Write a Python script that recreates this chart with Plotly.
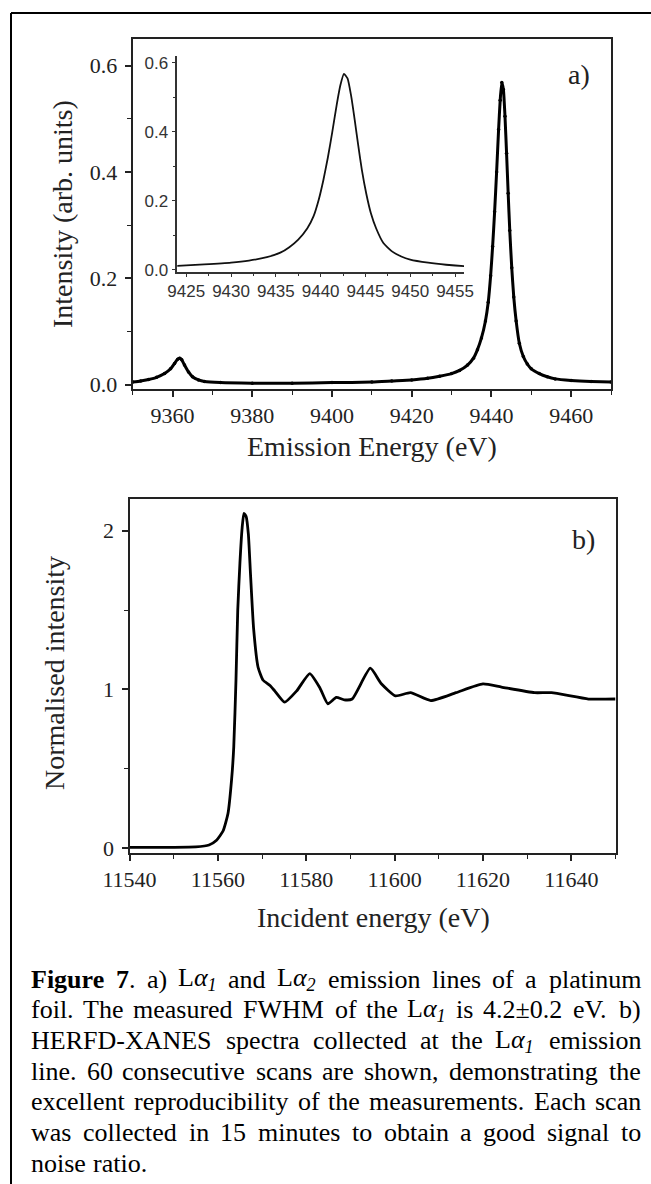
import re
import plotly.graph_objects as go

# ---------------- data ----------------
emission_energy = [9350, 9352, 9354, 9356, 9358, 9359.5, 9360.5, 9361.3, 9361.8, 9362.3,
                   9363, 9364, 9365, 9366.5, 9368, 9372, 9380, 9390, 9400, 9410,
                   9415, 9420, 9424, 9427, 9430, 9432, 9434, 9435.5, 9436.5, 9437.5,
                   9438.5, 9439.2, 9439.8, 9440.3, 9440.8, 9441.3, 9441.8, 9442.2, 9442.6, 9443.0,
                   9443.4, 9443.8, 9444.2, 9444.6, 9445.1, 9445.6, 9446.2, 9447, 9448, 9449,
                   9450, 9452, 9454, 9456, 9460, 9465, 9470]
emission_intensity = [0.005, 0.007, 0.010, 0.014, 0.021, 0.030, 0.040, 0.048, 0.050, 0.047,
                      0.037, 0.024, 0.015, 0.009, 0.006, 0.004, 0.003, 0.003, 0.004, 0.005,
                      0.007, 0.009, 0.012, 0.016, 0.021, 0.027, 0.037, 0.050, 0.066, 0.088,
                      0.120, 0.155, 0.205, 0.260, 0.325, 0.400, 0.480, 0.535, 0.568, 0.555,
                      0.505, 0.435, 0.360, 0.290, 0.220, 0.165, 0.120, 0.078, 0.053, 0.039,
                      0.030, 0.021, 0.015, 0.011, 0.008, 0.006, 0.005]

incident_energy = [11540, 11550, 11555, 11558, 11559.7, 11561.2, 11562.3, 11563.1, 11563.6, 11564.1,
                   11564.5, 11565.0, 11565.5, 11565.9, 11566.4, 11566.9, 11567.4, 11568.1, 11569.1, 11570.2,
                   11571.8, 11572.9, 11575.1, 11577.8, 11580.8, 11583.1, 11584.9, 11586.8, 11588.6, 11590.4,
                   11594.5, 11597.0, 11600.2, 11603.6, 11608.2, 11613.9, 11620.0, 11624.2, 11631.7, 11635.5,
                   11643.9, 11650]
normalised_intensity = [0.005, 0.005, 0.008, 0.020, 0.05, 0.11, 0.22, 0.43, 0.64, 1.06,
                        1.50, 1.80, 2.02, 2.11, 2.09, 1.98, 1.72, 1.38, 1.14, 1.06,
                        1.025, 0.99, 0.92, 0.99, 1.10, 1.01, 0.91, 0.95, 0.935, 0.94,
                        1.134, 1.036, 0.96, 0.98, 0.93, 0.98, 1.035, 1.015, 0.98, 0.98,
                        0.94, 0.94]

ticks_a = [0.0, 0.2, 0.4, 0.6]
ticks_b = [0, 1, 2]

LA1 = "L<i>α</i><sub><i>1</i></sub>"
LA2 = "L<i>α</i><sub><i>2</i></sub>"
caption_lines = [
    ["<b>Figure</b>", "<b>7</b>.", "a)", LA1, "and", LA2, "emission", "lines", "of", "a", "platinum"],
    ["foil.", "The", "measured", "FWHM", "of", "the", LA1, "is", "4.2±0.2", "eV.", "b)"],
    ["HERFD-XANES", "spectra", "collected", "at", "the", LA1, "emission"],
    ["line.", "60", "consecutive", "scans", "are", "shown,", "demonstrating", "the"],
    ["excellent", "reproducibility", "of", "the", "measurements.", "Each", "scan"],
    ["was", "collected", "in", "15", "minutes", "to", "obtain", "a", "good", "signal", "to"],
    ["noise", "ratio."],
]

# ---------------- geometry helpers ----------------
W, H = 651, 1184


def px(x):
    return x / W


def py(y):
    return 1 - y / H


SERIF = "Liberation Serif"
SANS = "Liberation Sans"

fig = go.Figure()

# panel a main curve
fig.add_trace(go.Scatter(x=emission_energy, y=emission_intensity, mode="lines+markers",
                         line=dict(color="black", width=3, shape="spline", smoothing=0.5),
                         marker=dict(size=3.5, color="black"),
                         xaxis="x", yaxis="y", showlegend=False, hoverinfo="skip"))
# inset (same spectrum, zoomed)
fig.add_trace(go.Scatter(x=emission_energy, y=emission_intensity, mode="lines",
                         line=dict(color="#111", width=1.8, shape="spline", smoothing=0.5),
                         xaxis="x2", yaxis="y2", showlegend=False, hoverinfo="skip"))
# panel b
fig.add_trace(go.Scatter(x=incident_energy, y=normalised_intensity, mode="lines",
                         line=dict(color="black", width=2.8, shape="spline", smoothing=0.5),
                         xaxis="x3", yaxis="y3", showlegend=False, hoverinfo="skip"))

axcol = "#222"
tickfont = dict(family=SERIF, size=22, color=axcol)
insetfont = dict(family=SANS, size=17, color="#333")


def main_axis(**kw):
    d = dict(showline=True, linewidth=2, linecolor=axcol, mirror=True, ticks="outside",
             ticklen=6, tickwidth=1.5, tickcolor=axcol, showgrid=False, zeroline=False,
             tickfont=tickfont, automargin=False)
    d.update(kw)
    return d


minor_x = dict(dtick=10, ticks="outside", ticklen=4, tickwidth=1.3, tickcolor=axcol, showgrid=False)

fig.update_layout(
    template="none",
    width=W, height=H,
    margin=dict(l=0, r=0, t=0, b=0, autoexpand=False),
    paper_bgcolor="white", plot_bgcolor="rgba(0,0,0,0)",
    xaxis=main_axis(domain=[px(132.7), px(611)], range=[9350, 9470], tick0=9360, dtick=20,
                    tickformat="d", minor=dict(minor_x, tick0=9350), anchor="y"),
    yaxis=main_axis(domain=[py(389), py(39)], range=[-0.008, 0.65], tickvals=ticks_a,
                    tickformat=".1f", minor=dict(dtick=0.1, tick0=0, ticks="outside", ticklen=4,
                                                 tickwidth=1.3, tickcolor=axcol, showgrid=False),
                    anchor="x", ticklabelstandoff=3),
    xaxis2=dict(domain=[px(177.3), px(464)], range=[9424, 9456], tick0=9425, dtick=5, tickformat="d",
                showline=True, linewidth=1.5, linecolor="#333", mirror=False, ticks="outside",
                ticklen=3, tickwidth=1.2, tickcolor="#333", showgrid=False, zeroline=False,
                minor=dict(dtick=2.5, tick0=9425, ticks="outside", ticklen=2, tickwidth=1,
                           tickcolor="#333", showgrid=False),
                tickfont=insetfont, anchor="y2", automargin=False),
    yaxis2=dict(domain=[py(272), py(56)], range=[-0.006, 0.62], tickvals=ticks_a, tickformat=".1f",
                showline=True, linewidth=1.5, linecolor="#333", mirror=False, ticks="outside",
                ticklen=4, tickwidth=1.2, tickcolor="#333", showgrid=False, zeroline=False,
                minor=dict(dtick=0.1, tick0=0, ticks="outside", ticklen=2.5, tickwidth=1,
                           tickcolor="#333", showgrid=False),
                tickfont=insetfont, anchor="x2", automargin=False),
    xaxis3=main_axis(domain=[px(129.5), px(615.5)], range=[11540, 11650], tick0=11540, dtick=20,
                     tickformat="d", minor=dict(minor_x, tick0=11540), anchor="y3"),
    yaxis3=main_axis(domain=[py(853), py(499)], range=[-0.03, 2.2], tickvals=ticks_b,
                     minor=dict(dtick=0.5, tick0=0, ticks="outside", ticklen=4, tickwidth=1.3,
                                tickcolor=axcol, showgrid=False),
                     anchor="x3", ticklabelstandoff=3),
)

annotations = []


def text_at(x, y, text, size=28, angle=0, xanchor="center", font=SERIF, color="#222"):
    annotations.append(dict(x=px(x), y=py(y), xref="paper", yref="paper", text=text,
                            showarrow=False, textangle=angle, xanchor=xanchor, yanchor="middle",
                            borderpad=0, borderwidth=0,
                            font=dict(family=font, size=size, color=color)))


# axis titles and panel labels
text_at(372, 446, "Emission Energy (eV)")
text_at(63, 214, "Intensity (arb. units)", angle=-90)
text_at(373, 917, "Incident energy (eV)")
text_at(54, 673, "Normalised intensity", angle=-90)
text_at(579, 74.5, "a)")
text_at(583, 539.5, "b)")

# ---------------- justified caption ----------------
WID = {' ': .25, 'a': .444, 'b': .5, 'c': .444, 'd': .5, 'e': .444, 'f': .333, 'g': .5, 'h': .5,
       'i': .278, 'j': .278, 'k': .5, 'l': .278, 'm': .778, 'n': .5, 'o': .5, 'p': .5, 'q': .5,
       'r': .333, 's': .389, 't': .278, 'u': .5, 'v': .5, 'w': .722, 'x': .5, 'y': .5, 'z': .444,
       'A': .722, 'B': .667, 'C': .667, 'D': .722, 'E': .611, 'F': .556, 'G': .722, 'H': .722,
       'I': .333, 'J': .389, 'K': .722, 'L': .611, 'M': .889, 'N': .722, 'O': .722, 'P': .556,
       'Q': .722, 'R': .667, 'S': .556, 'T': .611, 'U': .722, 'V': .722, 'W': .944, 'X': .722,
       'Y': .722, 'Z': .611, '.': .25, ',': .25, '(': .333, ')': .333, '-': .333, '±': .564,
       'α': .55}
BOLD = {'F': .611, 'u': .556, 'r': .444}


def measure(html):
    w, bold, sub = 0.0, False, False
    for part in re.split(r'(<[^>]+>)', html):
        if part.startswith('<'):
            tag = part.strip('</> ').lower()
            closing = part.startswith('</')
            if tag == 'b':
                bold = not closing
            elif tag == 'sub':
                sub = not closing
            continue
        for ch in part:
            cw = WID.get(ch, .5)
            if bold:
                cw = BOLD.get(ch, cw)
            w += cw * (0.7 if sub else 1.0)
    return w * 1.012


CAP_FS = 26
CAP_L, CAP_R = 31, 641
base0, lead = 988, 30.7
for i, words in enumerate(caption_lines):
    base = base0 + i * lead
    yc = base - 0.34 * CAP_FS
    widths = [measure(w) * CAP_FS for w in words]
    last = i == len(caption_lines) - 1
    if last:
        gap = 0.25 * CAP_FS
    else:
        gap = (CAP_R - CAP_L - sum(widths)) / (len(words) - 1)
    x = CAP_L
    for j, (w, wd) in enumerate(zip(words, widths)):
        if (not last) and j == len(words) - 1:
            text_at(CAP_R, yc, w, size=CAP_FS, xanchor="right", color="black")
        else:
            text_at(x, yc, w, size=CAP_FS, xanchor="left", color="black")
        x += wd + gap

fig.update_layout(annotations=annotations)

# outer frame (top and left edges visible in the picture)
fig.add_shape(type="line", xref="paper", yref="paper", x0=px(11), x1=1.0, y0=py(13), y1=py(13),
              line=dict(color="black", width=2))
fig.add_shape(type="line", xref="paper", yref="paper", x0=px(11), x1=px(11), y0=py(13), y1=0,
              line=dict(color="black", width=2))

fig.write_html("out.html")
